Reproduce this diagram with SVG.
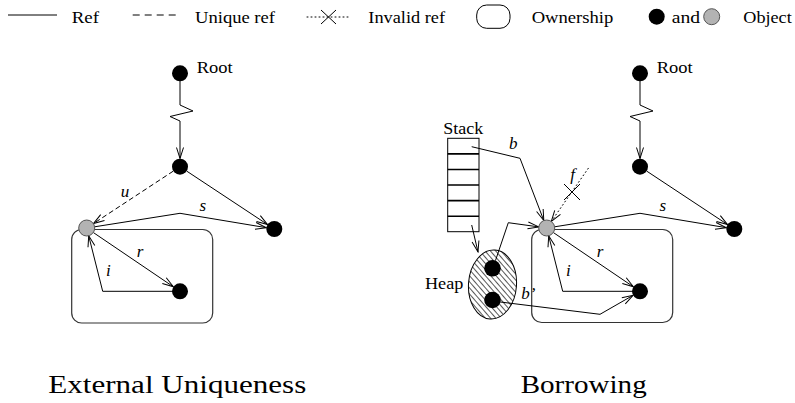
<svg xmlns="http://www.w3.org/2000/svg" width="795" height="403" viewBox="0 0 795 403">
  <style>
    .lbl { font-family: "Liberation Serif", "Times New Roman", serif; font-size: 16px; fill: #000; }
    .it { font-family: "Liberation Serif", "Times New Roman", serif; font-size: 17px; font-style: italic; fill: #000; }
    .cap { font-family: "Liberation Serif", "DejaVu Serif", serif; font-size: 26px; fill: #000; }
    .ln { fill: none; stroke: #000; stroke-width: 1; }
    .arr { marker-end: url(#head); }
    .dash { stroke-dasharray: 5 3; }
    .dot { stroke-dasharray: 1 3; stroke-linecap: round; }
    .obj { fill: #000; }
    .ref { fill: #b3b3b3; stroke: #555; stroke-width: 1; }
    .own { fill: none; stroke: #333; stroke-width: 1.2; }
  </style>
  <defs>
    <marker id="head" viewBox="-12 -5 13 10" markerWidth="13" markerHeight="10" refX="0" refY="0" orient="auto" markerUnits="userSpaceOnUse">
      <path d="M-11,-3.5 L0,0 L-11,3.5" fill="none" stroke="#000" stroke-width="1" stroke-dasharray="none"/>
    </marker>
    <pattern id="hatch" width="4" height="4" patternUnits="userSpaceOnUse" patternTransform="rotate(45)">
      <rect x="0" y="0" width="4" height="0.9" fill="#444"/>
    </pattern>
  </defs>

  <rect width="795" height="403" fill="#fff"/>

  <!-- legend -->
  <g id="legend">
    <line class="ln" x1="8" y1="15" x2="57" y2="15"/>
    <text class="lbl" x="71.7" y="23" textLength="27.3" lengthAdjust="spacingAndGlyphs">Ref</text>
    <line class="ln" x1="132.7" y1="15" x2="176" y2="15" style="stroke-dasharray:7 5"/>
    <text class="lbl" x="195" y="23" textLength="80" lengthAdjust="spacingAndGlyphs">Unique ref</text>
    <line class="ln dot" x1="307" y1="17" x2="350" y2="17"/>
    <path class="ln" d="M321,10 L336,24 M336,10 L321,24"/>
    <text class="lbl" x="368.3" y="23" textLength="76.7" lengthAdjust="spacingAndGlyphs">Invalid ref</text>
    <rect class="ln" x="476.7" y="5" width="33.3" height="23.3" rx="10" ry="10"/>
    <text class="lbl" x="531.7" y="23" textLength="81.6" lengthAdjust="spacingAndGlyphs">Ownership</text>
    <circle class="obj" cx="656.7" cy="16.7" r="8"/>
    <text class="lbl" x="671.7" y="23" textLength="28.3" lengthAdjust="spacingAndGlyphs">and</text>
    <circle class="ref" cx="711.7" cy="16.7" r="8"/>
    <text class="lbl" x="743.3" y="23" textLength="48.4" lengthAdjust="spacingAndGlyphs">Object</text>
  </g>

  <!-- ownership boxes -->
  <g id="owner-left">
    <rect class="own" x="71.7" y="229.5" width="141" height="93.5" rx="10" ry="10"/>
  </g>
  <g id="owner-right">
    <rect class="own" x="531.7" y="229.5" width="141" height="93" rx="10" ry="10"/>
  </g>

  <!-- stack frames -->
  <g id="stack">
    <rect class="ln" x="447.7" y="138.3" width="31.3" height="93.4"/>
    <path d="M447.7,153.9 H479 M447.7,169.5 H479 M447.7,185 H479 M447.7,200.6 H479 M447.7,216.2 H479" fill="none" stroke="#000" stroke-width="1.6"/>
    <text class="lbl" x="443.3" y="134" textLength="40" lengthAdjust="spacingAndGlyphs">Stack</text>
  </g>

  <!-- heap region -->
  <g id="heap">
    <ellipse cx="492.5" cy="284.5" rx="24" ry="34.5" fill="url(#hatch)" stroke="#000" stroke-width="1" transform="rotate(4 492.5 284.5)"/>
    <text class="lbl" x="425" y="289" textLength="38.3" lengthAdjust="spacingAndGlyphs">Heap</text>
  </g>

  <!-- connectors -->
  <g id="connectors">
    <!-- external uniqueness -->
    <path class="ln arr" d="M180,81 L180,105 L193,111 L170,116.5 L180,121 L180,158.5"/>
    <path class="ln arr dash" d="M173.3,171.1 L93.4,223.6"/>
    <path class="ln arr" d="M186.7,171.1 L267.6,224.6"/>
    <path class="ln arr" d="M94.6,226.8 L180,213.3 L266.4,227.7"/>
    <path class="ln arr" d="M93.3,232.5 L173.4,286.8"/>
    <path class="ln arr" d="M173,291.3 L102.7,291.3 L88.7,235.8"/>

    <!-- borrowing -->
    <path class="ln arr" d="M640,81 L640,105 L653,111 L630,116.5 L640,121 L640,158.5"/>
    <path class="ln arr" d="M646.7,171.1 L727.6,224.6"/>
    <path class="ln arr" d="M554.6,226.8 L640,213.3 L726.4,227.7"/>
    <path class="ln arr" d="M553.3,232.5 L633.4,286.8"/>
    <path class="ln arr" d="M633,291.3 L562.7,291.3 L548.7,235.8"/>
    <path class="ln arr" d="M471.7,146.7 L520,158.3 L543.8,220.5"/>
    <path class="ln arr dot" d="M588.3,168.3 L551.3,221.4"/>
    <path class="ln" d="M564,184 L580,200 M580,184 L564,200"/>
    <path class="ln arr" d="M471.7,225 L478,252"/>
    <path class="ln arr" d="M495.5,260.5 L508.3,222.7 L538.8,226.9"/>
    <path class="ln arr" d="M500.3,302 L600,314.3 L633.1,295.3"/>

    <!-- reference names -->
    <text class="it" x="125" y="197" text-anchor="middle">u</text>
    <text class="it" x="202.7" y="210.7" text-anchor="middle">s</text>
    <text class="it" x="140" y="257.3" text-anchor="middle">r</text>
    <text class="it" x="108.3" y="275.7" text-anchor="middle">i</text>
    <text class="it" x="662.7" y="210.7" text-anchor="middle">s</text>
    <text class="it" x="600" y="257.3" text-anchor="middle">r</text>
    <text class="it" x="568.3" y="275.7" text-anchor="middle">i</text>
    <text class="it" x="513.3" y="149.3" text-anchor="middle">b</text>
    <text class="it" x="572.7" y="180" text-anchor="middle">f</text>
    <text class="it" x="528.3" y="299" text-anchor="middle">b’</text>
  </g>

  <!-- objects: external uniqueness -->
  <g id="eu-root">
    <circle class="obj" cx="180" cy="73.3" r="8"/>
    <text class="lbl" x="196.7" y="73.3" textLength="36" lengthAdjust="spacingAndGlyphs">Root</text>
  </g>
  <g id="eu-mid"><circle class="obj" cx="180" cy="166.7" r="8"/></g>
  <g id="eu-owner"><circle class="ref" cx="86.7" cy="228" r="8"/></g>
  <g id="eu-shared"><circle class="obj" cx="274.3" cy="229" r="8"/></g>
  <g id="eu-inner"><circle class="obj" cx="180" cy="291.3" r="8"/></g>

  <!-- objects: borrowing -->
  <g id="bo-root">
    <circle class="obj" cx="640" cy="73.3" r="8"/>
    <text class="lbl" x="656.7" y="73.3" textLength="36" lengthAdjust="spacingAndGlyphs">Root</text>
  </g>
  <g id="bo-mid"><circle class="obj" cx="640" cy="166.7" r="8"/></g>
  <g id="bo-owner"><circle class="ref" cx="546.7" cy="228" r="8"/></g>
  <g id="bo-shared"><circle class="obj" cx="734.3" cy="229" r="8"/></g>
  <g id="bo-inner"><circle class="obj" cx="640" cy="291.3" r="8"/></g>
  <g id="heap-a"><circle class="obj" cx="492.5" cy="268.3" r="8.3"/></g>
  <g id="heap-b"><circle class="obj" cx="492.5" cy="300" r="8.3"/></g>

  <!-- captions -->
  <text class="cap" x="48.3" y="393" textLength="258" lengthAdjust="spacingAndGlyphs">External Uniqueness</text>
  <text class="cap" x="520.7" y="393" textLength="126" lengthAdjust="spacingAndGlyphs">Borrowing</text>
</svg>
